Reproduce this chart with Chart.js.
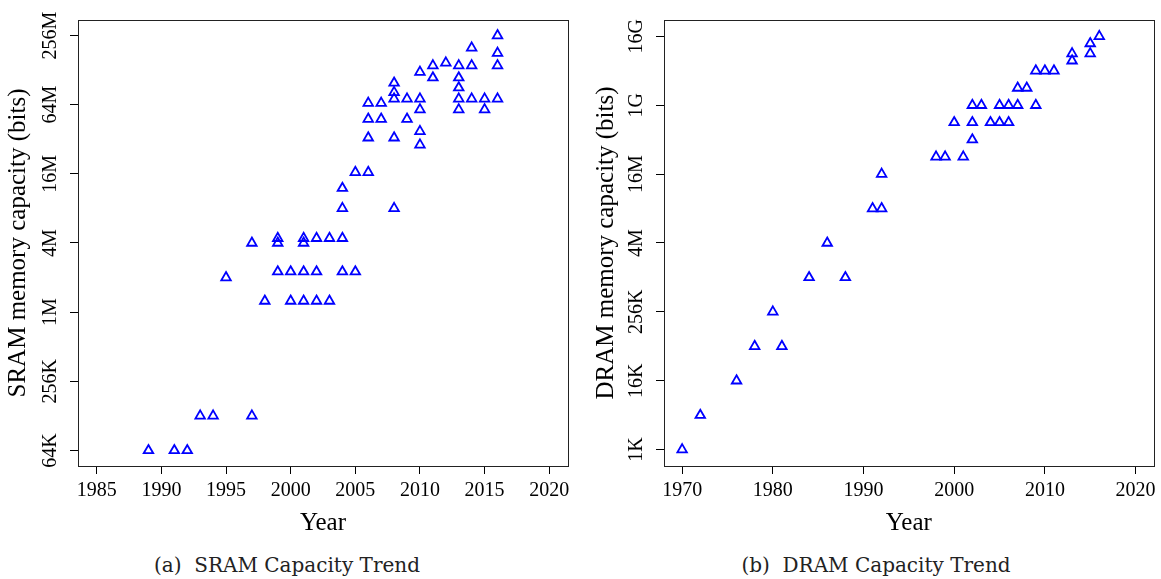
<!DOCTYPE html>
<html>
<head>
<meta charset="utf-8">
<script src="https://cdn.jsdelivr.net/npm/chart.js@4"></script>
<style>
  body { margin: 0; background: #fff; }
  #wrap { position: relative; width: 1161px; height: 579px; }
  canvas { position: absolute; top: 0; }
  #sram { left: 0; }
  #dram { left: 580px; }
  .caption {
    position: absolute; top: 553px;
    font: 20px "DejaVu Serif", serif; color: #222;
    transform: translateX(-50%); white-space: nowrap;
  }
</style>
</head>
<body>
<div id="wrap">
  <canvas id="sram" width="580" height="545"></canvas>
  <canvas id="dram" width="581" height="545"></canvas>
  <div class="caption" style="left:287px">(a)&nbsp; SRAM Capacity Trend</div>
  <div class="caption" style="left:876px">(b)&nbsp; DRAM Capacity Trend</div>
</div>
<script>
// SRAM parts: year of introduction and capacity (Mbit)
const sramYears = [1989, 1991, 1992, 1993, 1994, 1995, 1997, 1997, 1998,
    1999, 1999, 1999, 2000, 2000, 2001, 2001, 2001, 2001, 2002, 2002, 2002,
    2003, 2003, 2004, 2004, 2004, 2004, 2005, 2005, 2006, 2006, 2006, 2006,
    2007, 2007, 2008, 2008, 2008, 2008, 2008, 2009, 2009, 2010, 2010, 2010,
    2010, 2010, 2011, 2011, 2012, 2013, 2013, 2013, 2013, 2013, 2014, 2014,
    2014, 2015, 2015, 2016, 2016, 2016, 2016];
const sramMbit = [0.0625, 0.0625, 0.0625, 0.125, 0.125, 2, 0.125, 4, 1.25,
    2.25, 4, 4.4, 1.25, 2.25, 1.25, 2.25, 4, 4.4, 1.25, 2.25, 4.4,
    1.25, 4.4, 2.25, 4.4, 8, 12, 2.25, 16.5, 16.5, 33, 48, 66,
    48, 66, 8, 33, 72, 82, 99, 48, 72, 28.6, 37.5, 58,
    72, 123, 110, 140, 148, 58, 72, 90, 110, 140, 72, 140,
    200, 58, 72, 72, 140, 180, 256];

// DRAM parts: year of introduction and capacity (Kbit)
const dramYears = [1970, 1972, 1976, 1978, 1980, 1981, 1984, 1986, 1988,
    1991, 1992, 1992, 1998, 1999, 2000, 2001, 2002, 2002, 2002, 2003, 2004,
    2005, 2005, 2006, 2006, 2007, 2007, 2008, 2009, 2009, 2010, 2011,
    2013, 2013, 2015, 2015, 2016];
const dramKbit = [1, 4, 16, 64, 256, 64, 1024, 4096, 1024,
    16384, 16384, 65536, 131072, 131072, 524288, 131072, 262144, 524288, 1048576, 1048576, 524288,
    524288, 1048576, 524288, 1048576, 1048576, 2097152, 2097152, 1048576, 4194304, 4194304, 4194304,
    6291456, 8388608, 8388608, 12582912, 16777216];

// axis ticks
const sramYearTicks = [1985, 1990, 1995, 2000, 2005, 2010, 2015, 2020];
const sramTicks = [0.0625, 0.25, 1, 4, 16, 64, 256];
const sramTickLabels = ['64K', '256K', '1M', '4M', '16M', '64M', '256M'];
const dramYearTicks = [1970, 1980, 1990, 2000, 2010, 2020];
const dramTicks = [1, 16, 256, 4096, 65536, 1048576, 16777216];
const dramTickLabels = ['1K', '16K', '256K', '4M', '16M', '1G', '16G'];

const serif = '"Liberation Serif", "Times New Roman", serif';

// box around the plot + vertical tick labels on the y axis
const frame = {
    id: 'frame',
    beforeDatasetsDraw(chart, args, opts) {
        const {ctx, chartArea: a, scales: {y}} = chart;
        ctx.save();
        ctx.strokeStyle = '#222';
        ctx.lineWidth = 1;
        ctx.strokeRect(Math.round(a.left) + 0.5, Math.round(a.top) + 0.5,
            Math.round(a.right - a.left), Math.round(a.bottom - a.top));
        ctx.font = '20px ' + serif;
        ctx.fillStyle = '#000';
        ctx.textAlign = 'center';
        ctx.textBaseline = 'middle';
        opts.values.forEach((v, i) => {
            ctx.save();
            ctx.translate(y.right - 27, y.getPixelForValue(v));
            ctx.rotate(-Math.PI / 2);
            ctx.fillText(opts.labels[i], 0, 0);
            ctx.restore();
        });
        ctx.restore();
    }
};

function makeChart(id, years, values, cfg) {
    return new Chart(document.getElementById(id), {
        type: 'scatter',
        data: {
            datasets: [{
                data: years.map((yr, i) => ({x: yr, y: values[i]})),
                pointStyle: 'triangle',
                pointRadius: 5.5,
                pointBorderWidth: 1.8,
                borderColor: '#0000ff',
                backgroundColor: 'rgba(0,0,0,0)'
            }]
        },
        options: {
            responsive: false,
            animation: false,
            layout: {padding: {top: 20, right: cfg.padRight, left: 0, bottom: 0}},
            plugins: {
                legend: {display: false},
                tooltip: {enabled: false},
                frame: {values: cfg.yTicks, labels: cfg.yLabels}
            },
            scales: {
                x: {
                    type: 'linear',
                    min: cfg.xMin,
                    max: cfg.xMax,
                    afterBuildTicks: s => { s.ticks = cfg.xTicks.map(v => ({value: v})); },
                    afterFit: s => { s.height = 79; },
                    border: {display: false},
                    grid: {drawOnChartArea: false, drawTicks: true, tickLength: 8, color: '#000'},
                    ticks: {
                        color: '#000', font: {family: serif, size: 20}, padding: 5,
                        autoSkip: false, maxRotation: 0,
                        callback: v => String(v)
                    },
                    title: {
                        display: true, text: 'Year', color: '#000',
                        font: {family: serif, size: 25}, padding: {top: 0, bottom: 7}
                    }
                },
                y: {
                    type: 'logarithmic',
                    min: cfg.yMin,
                    max: cfg.yMax,
                    afterBuildTicks: s => { s.ticks = cfg.yTicks.map(v => ({value: v})); },
                    afterFit: s => { s.width = cfg.yWidth; },
                    border: {display: false},
                    grid: {drawOnChartArea: false, drawTicks: true, tickLength: 8, color: '#000'},
                    ticks: {display: false},
                    title: {
                        display: true, text: cfg.yTitle, color: '#000',
                        font: {family: serif, size: 25}, padding: {top: cfg.titlePad, bottom: 0}
                    }
                }
            }
        },
        plugins: [frame]
    });
}

makeChart('sram', sramYears, sramMbit, {
    xMin: 1983.55, xMax: 2021.45, xTicks: sramYearTicks,
    yMin: 0.04575, yMax: 349.7, yTicks: sramTicks, yLabels: sramTickLabels,
    yTitle: 'SRAM memory capacity (bits)', yWidth: 78, padRight: 12, titlePad: 3
});

makeChart('dram', dramYears, dramKbit, {
    xMin: 1968, xMax: 2022, xTicks: dramYearTicks,
    yMin: 0.5176, yMax: 32412000, yTicks: dramTicks, yLabels: dramTickLabels,
    yTitle: 'DRAM memory capacity (bits)', yWidth: 84, padRight: 6, titlePad: 11
});
</script>
</body>
</html>
